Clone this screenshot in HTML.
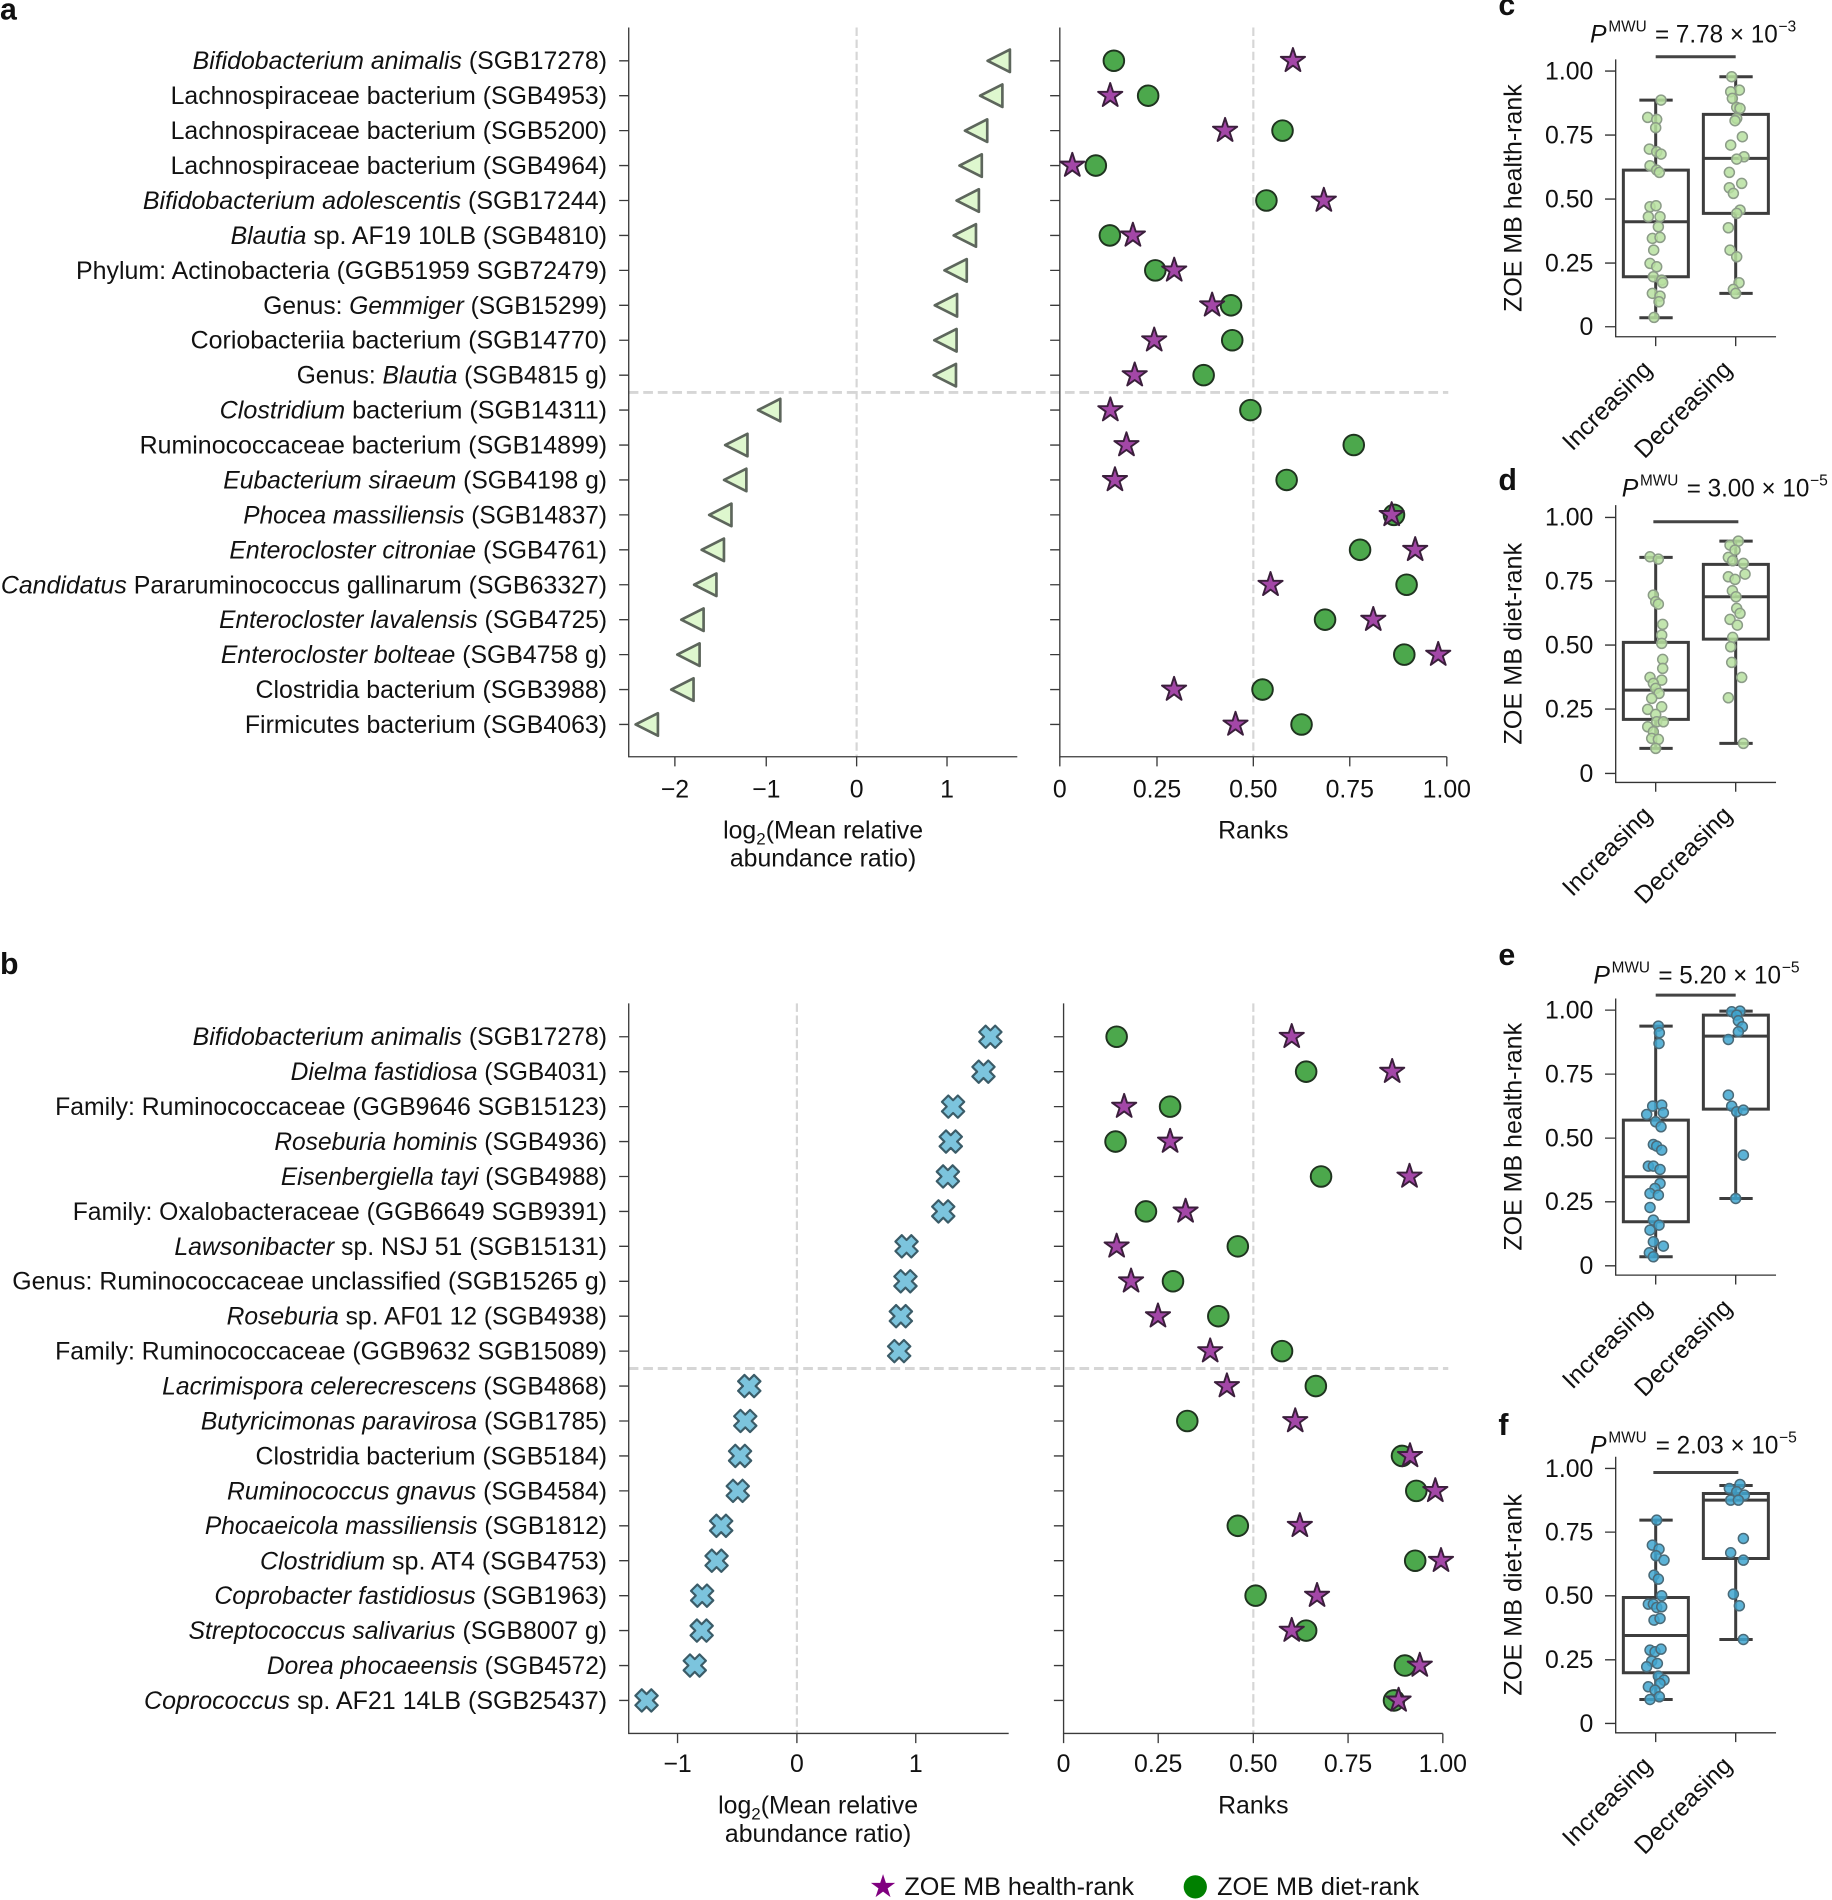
<!DOCTYPE html>
<html><head><meta charset="utf-8"><style>
html,body{margin:0;padding:0;background:#fff;}
svg{display:block;}
text{font-family:"Liberation Sans",Arial,sans-serif;fill:#111;}
.lb{font-size:20.5px;}
.it{font-style:italic;}
</style></head><body>
<svg width="1832" height="1900" viewBox="0 0 1512 1568" xmlns="http://www.w3.org/2000/svg">
<defs>
<polygon id="st" points="0,-10.5 2.35,-3.24 9.99,-3.24 3.8,1.24 6.17,8.49 0,4 -6.17,8.49 -3.8,1.24 -9.99,-3.24 -2.35,-3.24" fill="#a347a7" stroke="#3b1f3c" stroke-width="1.6" stroke-linejoin="round"/>
<circle id="ci" r="8.5" fill="#4ca84c" stroke="#1f331f" stroke-width="1.6"/>
<polygon id="tr" points="-9.2,0 9.2,-9.3 9.2,9.3" fill="#def7ce" stroke="#5d665c" stroke-width="2.2" stroke-linejoin="round"/>
<polygon id="xx" points="-3.94,9.2 0,5.26 3.94,9.2 9.2,3.94 5.26,0 9.2,-3.94 3.94,-9.2 0,-5.26 -3.94,-9.2 -9.2,-3.94 -5.26,0 -9.2,3.94" fill="#7cc4dd" stroke="#3b5c68" stroke-width="1.8" stroke-linejoin="round"/>
</defs>
<rect width="1512" height="1568" fill="#fff"/>

<!-- ================= PANEL A ================= -->
<text x="0" y="16" font-size="25" font-weight="bold">a</text>
<!-- dashed guides -->
<line x1="707" y1="22.6" x2="707" y2="624.5" stroke="#d6d6d6" stroke-width="1.8" stroke-dasharray="7,3"/>
<line x1="1034.4" y1="22.6" x2="1034.4" y2="624.5" stroke="#d6d6d6" stroke-width="1.8" stroke-dasharray="7,3"/>
<line x1="518.9" y1="323.8" x2="1195.3" y2="323.8" stroke="#d6d6d6" stroke-width="2.4" stroke-dasharray="8,4"/>
<!-- spines -->
<path d="M518.9,22.6 V624.5 H839.6 M874.7,22.6 V624.5 H1194.1" fill="none" stroke="#3a3a3a" stroke-width="1.1"/>
<path d="M511,50.1H518.9M511,78.93H518.9M511,107.76H518.9M511,136.59H518.9M511,165.42H518.9M511,194.25H518.9M511,223.08H518.9M511,251.91H518.9M511,280.74H518.9M511,309.57H518.9M511,338.4H518.9M511,367.23H518.9M511,396.06H518.9M511,424.89H518.9M511,453.72H518.9M511,482.55H518.9M511,511.38H518.9M511,540.21H518.9M511,569.04H518.9M511,597.87H518.9
M866.7,50.1H874.7M866.7,78.93H874.7M866.7,107.76H874.7M866.7,136.59H874.7M866.7,165.42H874.7M866.7,194.25H874.7M866.7,223.08H874.7M866.7,251.91H874.7M866.7,280.74H874.7M866.7,309.57H874.7M866.7,338.4H874.7M866.7,367.23H874.7M866.7,396.06H874.7M866.7,424.89H874.7M866.7,453.72H874.7M866.7,482.55H874.7M866.7,511.38H874.7M866.7,540.21H874.7M866.7,569.04H874.7M866.7,597.87H874.7
M557,624.5V632.5M632.4,624.5V632.5M707,624.5V632.5M781.6,624.5V632.5
M874.7,624.5V632.5M954.9,624.5V632.5M1034.4,624.5V632.5M1114,624.5V632.5M1194.1,624.5V632.5" stroke="#3a3a3a" stroke-width="1.1"/>
<g class="lb" text-anchor="middle">
<text x="557" y="658">−2</text><text x="632.4" y="658">−1</text><text x="707" y="658">0</text><text x="781.6" y="658">1</text>
<text x="874.7" y="658">0</text><text x="954.9" y="658">0.25</text><text x="1034.4" y="658">0.50</text><text x="1114" y="658">0.75</text><text x="1194.1" y="658">1.00</text>
<text x="679.3" y="691.9">log<tspan font-size="14" dy="5">2</tspan><tspan dy="-5">(Mean relative</tspan></text>
<text x="679.3" y="715.3">abundance ratio)</text>
<text x="1034.4" y="691.9">Ranks</text>
</g>
<!-- labels a -->
<g class="lb" lengthAdjust="spacingAndGlyphs">
<text x="159" y="57.1" textLength="342" lengthAdjust="spacingAndGlyphs"><tspan class="it">Bifidobacterium animalis</tspan> (SGB17278)</text>
<text x="140.8" y="85.9" textLength="360.2" lengthAdjust="spacingAndGlyphs">Lachnospiraceae bacterium (SGB4953)</text>
<text x="140.8" y="114.8" textLength="360.2" lengthAdjust="spacingAndGlyphs">Lachnospiraceae bacterium (SGB5200)</text>
<text x="140.8" y="143.6" textLength="360.2" lengthAdjust="spacingAndGlyphs">Lachnospiraceae bacterium (SGB4964)</text>
<text x="117.9" y="172.4" textLength="383.1" lengthAdjust="spacingAndGlyphs"><tspan class="it">Bifidobacterium adolescentis</tspan> (SGB17244)</text>
<text x="190.3" y="201.3" textLength="310.7" lengthAdjust="spacingAndGlyphs"><tspan class="it">Blautia</tspan> sp. AF19 10LB (SGB4810)</text>
<text x="62.7" y="230.1" textLength="438.3" lengthAdjust="spacingAndGlyphs">Phylum: Actinobacteria (GGB51959 SGB72479)</text>
<text x="217.3" y="258.9" textLength="283.7" lengthAdjust="spacingAndGlyphs">Genus: <tspan class="it">Gemmiger</tspan> (SGB15299)</text>
<text x="157.3" y="287.7" textLength="343.7" lengthAdjust="spacingAndGlyphs">Coriobacteriia bacterium (SGB14770)</text>
<text x="244.9" y="316.6" textLength="256.1" lengthAdjust="spacingAndGlyphs">Genus: <tspan class="it">Blautia</tspan> (SGB4815 g)</text>
<text x="181.3" y="345.4" textLength="319.7" lengthAdjust="spacingAndGlyphs"><tspan class="it">Clostridium</tspan> bacterium (SGB14311)</text>
<text x="115.2" y="374.2" textLength="385.8" lengthAdjust="spacingAndGlyphs">Ruminococcaceae bacterium (SGB14899)</text>
<text x="184.3" y="403.1" textLength="316.7" lengthAdjust="spacingAndGlyphs"><tspan class="it">Eubacterium siraeum</tspan> (SGB4198 g)</text>
<text x="200.8" y="431.9" textLength="300.2" lengthAdjust="spacingAndGlyphs"><tspan class="it">Phocea massiliensis</tspan> (SGB14837)</text>
<text x="189.3" y="460.7" textLength="311.7" lengthAdjust="spacingAndGlyphs"><tspan class="it">Enterocloster citroniae</tspan> (SGB4761)</text>
<text x="0.7" y="489.6" textLength="500.3" lengthAdjust="spacingAndGlyphs"><tspan class="it">Candidatus</tspan> Pararuminococcus gallinarum (SGB63327)</text>
<text x="180.9" y="518.4" textLength="320.1" lengthAdjust="spacingAndGlyphs"><tspan class="it">Enterocloster lavalensis</tspan> (SGB4725)</text>
<text x="182.3" y="547.2" textLength="318.7" lengthAdjust="spacingAndGlyphs"><tspan class="it">Enterocloster bolteae</tspan> (SGB4758 g)</text>
<text x="210.9" y="576.0" textLength="290.1" lengthAdjust="spacingAndGlyphs">Clostridia bacterium (SGB3988)</text>
<text x="202.1" y="604.9" textLength="298.9" lengthAdjust="spacingAndGlyphs">Firmicutes bacterium (SGB4063)</text>
</g>
<!-- triangles -->
<use href="#tr" x="824.3" y="50.1"/><use href="#tr" x="818.1" y="78.93"/><use href="#tr" x="805.6" y="107.76"/><use href="#tr" x="801.1" y="136.59"/><use href="#tr" x="798.7" y="165.42"/><use href="#tr" x="796.3" y="194.25"/><use href="#tr" x="788.7" y="223.08"/><use href="#tr" x="780.7" y="251.91"/><use href="#tr" x="780.3" y="280.74"/><use href="#tr" x="779.8" y="309.57"/><use href="#tr" x="634.8" y="338.4"/><use href="#tr" x="607.7" y="367.23"/><use href="#tr" x="606.8" y="396.06"/><use href="#tr" x="594.5" y="424.89"/><use href="#tr" x="588.3" y="453.72"/><use href="#tr" x="582.1" y="482.55"/><use href="#tr" x="571.5" y="511.38"/><use href="#tr" x="568.2" y="540.21"/><use href="#tr" x="563.2" y="569.04"/><use href="#tr" x="533.8" y="597.87"/>
<!-- circles a -->
<use href="#ci" x="919.3" y="50.1"/><use href="#ci" x="947.6" y="78.93"/><use href="#ci" x="1058.5" y="107.76"/><use href="#ci" x="904.4" y="136.59"/><use href="#ci" x="1045.2" y="165.42"/><use href="#ci" x="916" y="194.25"/><use href="#ci" x="953.5" y="223.08"/><use href="#ci" x="1016" y="251.91"/><use href="#ci" x="1017" y="280.74"/><use href="#ci" x="993.4" y="309.57"/><use href="#ci" x="1032" y="338.4"/><use href="#ci" x="1117.3" y="367.23"/><use href="#ci" x="1061.9" y="396.06"/><use href="#ci" x="1150.5" y="424.89"/><use href="#ci" x="1122.5" y="453.72"/><use href="#ci" x="1160.9" y="482.55"/><use href="#ci" x="1093.6" y="511.38"/><use href="#ci" x="1159" y="540.21"/><use href="#ci" x="1042" y="569.04"/><use href="#ci" x="1074.2" y="597.87"/>
<!-- stars a -->
<use href="#st" x="1067.1" y="50.1"/><use href="#st" x="916.3" y="78.93"/><use href="#st" x="1011.1" y="107.76"/><use href="#st" x="885" y="136.59"/><use href="#st" x="1092.6" y="165.42"/><use href="#st" x="935" y="194.25"/><use href="#st" x="969.1" y="223.08"/><use href="#st" x="1000.4" y="251.91"/><use href="#st" x="952.6" y="280.74"/><use href="#st" x="936.5" y="309.57"/><use href="#st" x="916.4" y="338.4"/><use href="#st" x="929.7" y="367.23"/><use href="#st" x="920.2" y="396.06"/><use href="#st" x="1148.6" y="424.89"/><use href="#st" x="1168" y="453.72"/><use href="#st" x="1048.6" y="482.55"/><use href="#st" x="1133.4" y="511.38"/><use href="#st" x="1187" y="540.21"/><use href="#st" x="969" y="569.04"/><use href="#st" x="1019.7" y="597.87"/>

<!-- ================= PANEL B ================= -->
<text x="0" y="804" font-size="25" font-weight="bold">b</text>
<line x1="657.7" y1="828.1" x2="657.7" y2="1430.6" stroke="#d6d6d6" stroke-width="1.8" stroke-dasharray="7,3"/>
<line x1="1034.4" y1="828.1" x2="1034.4" y2="1430.6" stroke="#d6d6d6" stroke-width="1.8" stroke-dasharray="7,3"/>
<line x1="518.9" y1="1129.4" x2="1195.3" y2="1129.4" stroke="#d6d6d6" stroke-width="2.4" stroke-dasharray="8,4"/>
<path d="M518.9,828.1 V1430.6 H832.5 M877.8,828.1 V1430.6 H1190.8" fill="none" stroke="#3a3a3a" stroke-width="1.1"/>
<path d="M511,855.6H518.9M511,884.43H518.9M511,913.26H518.9M511,942.09H518.9M511,970.92H518.9M511,999.75H518.9M511,1028.58H518.9M511,1057.41H518.9M511,1086.24H518.9M511,1115.07H518.9M511,1143.9H518.9M511,1172.73H518.9M511,1201.56H518.9M511,1230.39H518.9M511,1259.22H518.9M511,1288.05H518.9M511,1316.88H518.9M511,1345.71H518.9M511,1374.54H518.9M511,1403.37H518.9
M869.8,855.6H877.8M869.8,884.43H877.8M869.8,913.26H877.8M869.8,942.09H877.8M869.8,970.92H877.8M869.8,999.75H877.8M869.8,1028.58H877.8M869.8,1057.41H877.8M869.8,1086.24H877.8M869.8,1115.07H877.8M869.8,1143.9H877.8M869.8,1172.73H877.8M869.8,1201.56H877.8M869.8,1230.39H877.8M869.8,1259.22H877.8M869.8,1288.05H877.8M869.8,1316.88H877.8M869.8,1345.71H877.8M869.8,1374.54H877.8M869.8,1403.37H877.8
M559.2,1430.6V1438.6M657.7,1430.6V1438.6M755.8,1430.6V1438.6
M877.8,1430.6V1438.6M955.9,1430.6V1438.6M1034.4,1430.6V1438.6M1112.6,1430.6V1438.6M1190.8,1430.6V1438.6" stroke="#3a3a3a" stroke-width="1.1"/>
<g class="lb" text-anchor="middle">
<text x="559.2" y="1462.3">−1</text><text x="657.7" y="1462.3">0</text><text x="755.8" y="1462.3">1</text>
<text x="877.8" y="1462.3">0</text><text x="955.9" y="1462.3">0.25</text><text x="1034.4" y="1462.3">0.50</text><text x="1112.6" y="1462.3">0.75</text><text x="1190.8" y="1462.3">1.00</text>
<text x="675.2" y="1496.6">log<tspan font-size="14" dy="5">2</tspan><tspan dy="-5">(Mean relative</tspan></text>
<text x="675.2" y="1520">abundance ratio)</text>
<text x="1034.4" y="1496.6">Ranks</text>
</g>
<g class="lb">
<text x="159" y="862.6" textLength="342" lengthAdjust="spacingAndGlyphs"><tspan class="it">Bifidobacterium animalis</tspan> (SGB17278)</text>
<text x="239.9" y="891.4" textLength="261.1" lengthAdjust="spacingAndGlyphs"><tspan class="it">Dielma fastidiosa</tspan> (SGB4031)</text>
<text x="45.5" y="920.3" textLength="455.5" lengthAdjust="spacingAndGlyphs">Family: Ruminococcaceae (GGB9646 SGB15123)</text>
<text x="226.4" y="949.1" textLength="274.6" lengthAdjust="spacingAndGlyphs"><tspan class="it">Roseburia hominis</tspan> (SGB4936)</text>
<text x="231.8" y="977.9" textLength="269.2" lengthAdjust="spacingAndGlyphs"><tspan class="it">Eisenbergiella tayi</tspan> (SGB4988)</text>
<text x="60" y="1006.8" textLength="441" lengthAdjust="spacingAndGlyphs">Family: Oxalobacteraceae (GGB6649 SGB9391)</text>
<text x="143.9" y="1035.6" textLength="357.1" lengthAdjust="spacingAndGlyphs"><tspan class="it">Lawsonibacter</tspan> sp. NSJ 51 (SGB15131)</text>
<text x="10.1" y="1064.4" textLength="490.9" lengthAdjust="spacingAndGlyphs">Genus: Ruminococcaceae unclassified (SGB15265 g)</text>
<text x="187" y="1093.2" textLength="314" lengthAdjust="spacingAndGlyphs"><tspan class="it">Roseburia</tspan> sp. AF01 12 (SGB4938)</text>
<text x="45.5" y="1122.1" textLength="455.5" lengthAdjust="spacingAndGlyphs">Family: Ruminococcaceae (GGB9632 SGB15089)</text>
<text x="133.8" y="1150.9" textLength="367.2" lengthAdjust="spacingAndGlyphs"><tspan class="it">Lacrimispora celerecrescens</tspan> (SGB4868)</text>
<text x="165.8" y="1179.7" textLength="335.2" lengthAdjust="spacingAndGlyphs"><tspan class="it">Butyricimonas paravirosa</tspan> (SGB1785)</text>
<text x="210.9" y="1208.6" textLength="290.1" lengthAdjust="spacingAndGlyphs">Clostridia bacterium (SGB5184)</text>
<text x="187.3" y="1237.4" textLength="313.7" lengthAdjust="spacingAndGlyphs"><tspan class="it">Ruminococcus gnavus</tspan> (SGB4584)</text>
<text x="169.1" y="1266.2" textLength="331.9" lengthAdjust="spacingAndGlyphs"><tspan class="it">Phocaeicola massiliensis</tspan> (SGB1812)</text>
<text x="214.6" y="1295.1" textLength="286.4" lengthAdjust="spacingAndGlyphs"><tspan class="it">Clostridium</tspan> sp. AT4 (SGB4753)</text>
<text x="176.9" y="1323.9" textLength="324.1" lengthAdjust="spacingAndGlyphs"><tspan class="it">Coprobacter fastidiosus</tspan> (SGB1963)</text>
<text x="155.6" y="1352.7" textLength="345.4" lengthAdjust="spacingAndGlyphs"><tspan class="it">Streptococcus salivarius</tspan> (SGB8007 g)</text>
<text x="220.3" y="1381.5" textLength="280.7" lengthAdjust="spacingAndGlyphs"><tspan class="it">Dorea phocaeensis</tspan> (SGB4572)</text>
<text x="118.9" y="1410.4" textLength="382.1" lengthAdjust="spacingAndGlyphs"><tspan class="it">Coprococcus</tspan> sp. AF21 14LB (SGB25437)</text>
</g>
<!-- X markers -->
<use href="#xx" x="817.4" y="855.6"/><use href="#xx" x="811.7" y="884.43"/><use href="#xx" x="786.6" y="913.26"/><use href="#xx" x="784.7" y="942.09"/><use href="#xx" x="782.3" y="970.92"/><use href="#xx" x="778.5" y="999.75"/><use href="#xx" x="748.2" y="1028.58"/><use href="#xx" x="747.3" y="1057.41"/><use href="#xx" x="743.5" y="1086.24"/><use href="#xx" x="742.1" y="1115.07"/><use href="#xx" x="618.4" y="1143.9"/><use href="#xx" x="615.1" y="1172.73"/><use href="#xx" x="610.8" y="1201.56"/><use href="#xx" x="608.9" y="1230.39"/><use href="#xx" x="595.2" y="1259.22"/><use href="#xx" x="591.4" y="1288.05"/><use href="#xx" x="579.5" y="1316.88"/><use href="#xx" x="579.1" y="1345.71"/><use href="#xx" x="573.4" y="1374.54"/><use href="#xx" x="533.6" y="1403.37"/>
<!-- circles b -->
<use href="#ci" x="921.6" y="855.6"/><use href="#ci" x="1078" y="884.43"/><use href="#ci" x="965.7" y="913.26"/><use href="#ci" x="920.7" y="942.09"/><use href="#ci" x="1090.3" y="970.92"/><use href="#ci" x="945.8" y="999.75"/><use href="#ci" x="1021.6" y="1028.58"/><use href="#ci" x="968.1" y="1057.41"/><use href="#ci" x="1005.5" y="1086.24"/><use href="#ci" x="1058.1" y="1115.07"/><use href="#ci" x="1086" y="1143.9"/><use href="#ci" x="979.9" y="1172.73"/><use href="#ci" x="1157.1" y="1201.56"/><use href="#ci" x="1168.9" y="1230.39"/><use href="#ci" x="1021.6" y="1259.22"/><use href="#ci" x="1168" y="1288.05"/><use href="#ci" x="1036.3" y="1316.88"/><use href="#ci" x="1078" y="1345.71"/><use href="#ci" x="1159.5" y="1374.54"/><use href="#ci" x="1150.5" y="1403.37"/>
<!-- stars b -->
<use href="#st" x="1066.1" y="855.6"/><use href="#st" x="1149" y="884.43"/><use href="#st" x="927.8" y="913.26"/><use href="#st" x="965.7" y="942.09"/><use href="#st" x="1163.3" y="970.92"/><use href="#st" x="978.5" y="999.75"/><use href="#st" x="921.6" y="1028.58"/><use href="#st" x="933.5" y="1057.41"/><use href="#st" x="955.7" y="1086.24"/><use href="#st" x="998.8" y="1115.07"/><use href="#st" x="1012.6" y="1143.9"/><use href="#st" x="1069" y="1172.73"/><use href="#st" x="1163.7" y="1201.56"/><use href="#st" x="1184.6" y="1230.39"/><use href="#st" x="1072.8" y="1259.22"/><use href="#st" x="1189.3" y="1288.05"/><use href="#st" x="1087" y="1316.88"/><use href="#st" x="1066.1" y="1345.71"/><use href="#st" x="1171.8" y="1374.54"/><use href="#st" x="1154.3" y="1403.37"/>

<!-- legend -->
<polygon transform="translate(728.8,1557.2)" points="0,-10.5 2.35,-3.24 9.99,-3.24 3.8,1.24 6.17,8.49 0,4 -6.17,8.49 -3.8,1.24 -9.99,-3.24 -2.35,-3.24" fill="#800080"/>
<text class="lb" x="746.4" y="1564" textLength="189.5" lengthAdjust="spacingAndGlyphs">ZOE MB health-rank</text>
<circle cx="986.5" cy="1557.2" r="9.6" fill="#008000"/>
<text class="lb" x="1004.5" y="1564" textLength="166.8" lengthAdjust="spacingAndGlyphs">ZOE MB diet-rank</text>

<!-- ================= PANEL C ================= -->
<g transform="translate(1221.5,0) scale(0.27512)">
<text x="55" y="45" font-size="91" font-weight="bold">c</text>
<path d="M407,178 V1010 H888 M375,213H407 M375,405H407 M375,597H407 M375,789H407 M375,980H407 M527,1010V1038 M767,1010V1038" fill="none" stroke="#333" stroke-width="4"/>
<g font-size="74.5" text-anchor="end"><text x="340" y="238">1.00</text><text x="340" y="430">0.75</text><text x="340" y="622">0.50</text><text x="340" y="814">0.25</text><text x="340" y="1005">0</text></g>
<text transform="translate(125,594) rotate(-90)" text-anchor="middle" font-size="74.5" textLength="683" lengthAdjust="spacingAndGlyphs">ZOE MB health-rank</text>
<text transform="translate(520,1112) rotate(-45)" text-anchor="end" font-size="74.5">Increasing</text>
<text transform="translate(760,1112) rotate(-45)" text-anchor="end" font-size="74.5">Decreasing</text>
<text x="330" y="128" font-size="74.5" font-style="italic">P</text>
<text x="385" y="95" font-size="47" textLength="115" lengthAdjust="spacingAndGlyphs">MWU</text>
<text x="525" y="128" font-size="74.5" textLength="368" lengthAdjust="spacingAndGlyphs">= 7.78 × 10</text>
<text x="895" y="95" font-size="47">−3</text>
<line x1="527" y1="170" x2="767" y2="170" stroke="#444" stroke-width="9"/>
<path d="M430,510H625V830H430Z M430,665H625 M527,510V300 M478,300H578 M527,830V953 M478,953H578
M670,343H865V640H670Z M670,475H865 M767,343V230 M718,230H818 M767,640V880 M718,880H818" fill="none" stroke="#3d3d3d" stroke-width="9"/>
<g fill="#b7e1a0" fill-opacity="0.85" stroke="#8c9c88" stroke-width="4.5">
<circle cx="543" cy="300" r="15"/><circle cx="503" cy="352" r="15"/><circle cx="530" cy="358" r="15"/><circle cx="527" cy="383" r="15"/><circle cx="508" cy="447" r="15"/><circle cx="530" cy="455" r="15"/><circle cx="543" cy="462" r="15"/><circle cx="510" cy="497" r="15"/><circle cx="530" cy="510" r="15"/><circle cx="538" cy="517" r="15"/><circle cx="510" cy="620" r="15"/><circle cx="528" cy="617" r="15"/><circle cx="505" cy="650" r="15"/><circle cx="540" cy="650" r="15"/><circle cx="535" cy="680" r="15"/><circle cx="517" cy="715" r="15"/><circle cx="540" cy="712" r="15"/><circle cx="521" cy="750" r="15"/><circle cx="510" cy="790" r="15"/><circle cx="530" cy="800" r="15"/><circle cx="520" cy="830" r="15"/><circle cx="545" cy="840" r="15"/><circle cx="548" cy="848" r="15"/><circle cx="517" cy="880" r="15"/><circle cx="540" cy="888" r="15"/><circle cx="537" cy="905" r="15"/><circle cx="522" cy="952" r="15"/>
<circle cx="755" cy="230" r="15"/><circle cx="778" cy="270" r="15"/><circle cx="752" cy="275" r="15"/><circle cx="757" cy="295" r="15"/><circle cx="770" cy="322" r="15"/><circle cx="780" cy="325" r="15"/><circle cx="770" cy="355" r="15"/><circle cx="765" cy="362" r="15"/><circle cx="787" cy="410" r="15"/><circle cx="752" cy="435" r="15"/><circle cx="792" cy="470" r="15"/><circle cx="770" cy="477" r="15"/><circle cx="748" cy="517" r="15"/><circle cx="785" cy="550" r="15"/><circle cx="748" cy="563" r="15"/><circle cx="760" cy="580" r="15"/><circle cx="780" cy="630" r="15"/><circle cx="770" cy="640" r="15"/><circle cx="745" cy="683" r="15"/><circle cx="750" cy="750" r="15"/><circle cx="770" cy="770" r="15"/><circle cx="777" cy="848" r="15"/><circle cx="760" cy="868" r="15"/><circle cx="767" cy="880" r="15"/>
</g>
</g>

<!-- ================= PANEL D ================= -->
<g transform="translate(1221.5,379.66) scale(0.27512)">
<text x="55" y="90" font-size="91" font-weight="bold">d</text>
<path d="M407,135 V967 H888 M375,172H407 M375,363H407 M375,555H407 M375,747H407 M375,940H407 M527,967V995 M767,967V995" fill="none" stroke="#333" stroke-width="4"/>
<g font-size="74.5" text-anchor="end"><text x="340" y="197">1.00</text><text x="340" y="388">0.75</text><text x="340" y="580">0.50</text><text x="340" y="772">0.25</text><text x="340" y="965">0</text></g>
<text transform="translate(125,551) rotate(-90)" text-anchor="middle" font-size="74.5" textLength="605" lengthAdjust="spacingAndGlyphs">ZOE MB diet-rank</text>
<text transform="translate(520,1069) rotate(-45)" text-anchor="end" font-size="74.5">Increasing</text>
<text transform="translate(760,1069) rotate(-45)" text-anchor="end" font-size="74.5">Decreasing</text>
<text x="425" y="110" font-size="74.5" font-style="italic">P</text>
<text x="480" y="77" font-size="47" textLength="115" lengthAdjust="spacingAndGlyphs">MWU</text>
<text x="620" y="110" font-size="74.5" textLength="368" lengthAdjust="spacingAndGlyphs">= 3.00 × 10</text>
<text x="990" y="77" font-size="47">−5</text>
<line x1="520" y1="185" x2="775" y2="185" stroke="#444" stroke-width="9"/>
<path d="M430,547H625V778H430Z M430,690H625 M527,547V292 M478,292H578 M527,778V865 M478,865H578
M670,313H865V537H670Z M670,410H865 M767,313V243 M718,243H818 M767,537V850 M718,850H818" fill="none" stroke="#3d3d3d" stroke-width="9"/>
<g fill="#b7e1a0" fill-opacity="0.85" stroke="#8c9c88" stroke-width="4.5">
<circle cx="510" cy="290" r="15"/><circle cx="535" cy="297" r="15"/><circle cx="520" cy="405" r="15"/><circle cx="527" cy="425" r="15"/><circle cx="535" cy="432" r="15"/><circle cx="548" cy="493" r="15"/><circle cx="545" cy="525" r="15"/><circle cx="545" cy="550" r="15"/><circle cx="548" cy="598" r="15"/><circle cx="548" cy="625" r="15"/><circle cx="510" cy="652" r="15"/><circle cx="545" cy="660" r="15"/><circle cx="520" cy="670" r="15"/><circle cx="527" cy="685" r="15"/><circle cx="537" cy="700" r="15"/><circle cx="515" cy="715" r="15"/><circle cx="503" cy="748" r="15"/><circle cx="545" cy="740" r="15"/><circle cx="527" cy="763" r="15"/><circle cx="530" cy="785" r="15"/><circle cx="550" cy="785" r="15"/><circle cx="503" cy="800" r="15"/><circle cx="520" cy="815" r="15"/><circle cx="515" cy="835" r="15"/><circle cx="535" cy="838" r="15"/><circle cx="527" cy="865" r="15"/>
<circle cx="750" cy="255" r="15"/><circle cx="775" cy="243" r="15"/><circle cx="765" cy="270" r="15"/><circle cx="745" cy="292" r="15"/><circle cx="758" cy="302" r="15"/><circle cx="790" cy="310" r="15"/><circle cx="745" cy="350" r="15"/><circle cx="795" cy="342" r="15"/><circle cx="765" cy="358" r="15"/><circle cx="757" cy="392" r="15"/><circle cx="768" cy="410" r="15"/><circle cx="770" cy="445" r="15"/><circle cx="780" cy="460" r="15"/><circle cx="750" cy="478" r="15"/><circle cx="772" cy="495" r="15"/><circle cx="758" cy="532" r="15"/><circle cx="752" cy="560" r="15"/><circle cx="755" cy="607" r="15"/><circle cx="785" cy="652" r="15"/><circle cx="745" cy="713" r="15"/><circle cx="790" cy="850" r="15"/>
</g>
</g>

<!-- ================= PANEL E ================= -->
<g transform="translate(1221.5,767.58) scale(0.27512)">
<text x="55" y="105" font-size="91" font-weight="bold">e</text>
<path d="M407,205 V1035 H888 M375,240H407 M375,432H407 M375,624H407 M375,815H407 M375,1007H407 M527,1035V1063 M767,1035V1063" fill="none" stroke="#333" stroke-width="4"/>
<g font-size="74.5" text-anchor="end"><text x="340" y="265">1.00</text><text x="340" y="457">0.75</text><text x="340" y="649">0.50</text><text x="340" y="840">0.25</text><text x="340" y="1032">0</text></g>
<text transform="translate(125,620) rotate(-90)" text-anchor="middle" font-size="74.5" textLength="683" lengthAdjust="spacingAndGlyphs">ZOE MB health-rank</text>
<text transform="translate(520,1137) rotate(-45)" text-anchor="end" font-size="74.5">Increasing</text>
<text transform="translate(760,1137) rotate(-45)" text-anchor="end" font-size="74.5">Decreasing</text>
<text x="340" y="160" font-size="74.5" font-style="italic">P</text>
<text x="395" y="127" font-size="47" textLength="115" lengthAdjust="spacingAndGlyphs">MWU</text>
<text x="535" y="160" font-size="74.5" textLength="368" lengthAdjust="spacingAndGlyphs">= 5.20 × 10</text>
<text x="905" y="127" font-size="47">−5</text>
<line x1="527" y1="195" x2="767" y2="195" stroke="#444" stroke-width="9"/>
<path d="M430,570H625V875H430Z M430,740H625 M527,570V288 M478,288H578 M527,875V980 M478,980H578
M670,255H865V537H670Z M670,318H865 M767,255V243 M718,243H818 M767,537V805 M718,805H818" fill="none" stroke="#3d3d3d" stroke-width="9"/>
<g fill="#3fa6d0" fill-opacity="0.85" stroke="#4a6a78" stroke-width="4.5">
<circle cx="535" cy="288" r="15"/><circle cx="538" cy="308" r="15"/><circle cx="537" cy="340" r="15"/><circle cx="518" cy="528" r="15"/><circle cx="545" cy="525" r="15"/><circle cx="500" cy="553" r="15"/><circle cx="550" cy="548" r="15"/><circle cx="527" cy="575" r="15"/><circle cx="543" cy="590" r="15"/><circle cx="520" cy="643" r="15"/><circle cx="530" cy="648" r="15"/><circle cx="545" cy="660" r="15"/><circle cx="505" cy="708" r="15"/><circle cx="520" cy="708" r="15"/><circle cx="540" cy="718" r="15"/><circle cx="540" cy="760" r="15"/><circle cx="525" cy="775" r="15"/><circle cx="510" cy="790" r="15"/><circle cx="535" cy="795" r="15"/><circle cx="510" cy="832" r="15"/><circle cx="520" cy="870" r="15"/><circle cx="537" cy="885" r="15"/><circle cx="510" cy="900" r="15"/><circle cx="520" cy="935" r="15"/><circle cx="550" cy="948" r="15"/><circle cx="508" cy="968" r="15"/><circle cx="520" cy="980" r="15"/>
<circle cx="755" cy="245" r="15"/><circle cx="780" cy="243" r="15"/><circle cx="770" cy="255" r="15"/><circle cx="775" cy="272" r="15"/><circle cx="787" cy="290" r="15"/><circle cx="775" cy="305" r="15"/><circle cx="745" cy="328" r="15"/><circle cx="745" cy="495" r="15"/><circle cx="755" cy="528" r="15"/><circle cx="770" cy="545" r="15"/><circle cx="790" cy="540" r="15"/><circle cx="790" cy="675" r="15"/><circle cx="767" cy="805" r="15"/>
</g>
</g>

<!-- ================= PANEL F ================= -->
<g transform="translate(1221.5,1155.5) scale(0.27512)">
<text x="55" y="105" font-size="91" font-weight="bold">f</text>
<path d="M407,170 V998 H888 M375,205H407 M375,396H407 M375,587H407 M375,779H407 M375,970H407 M527,998V1026 M767,998V1026" fill="none" stroke="#333" stroke-width="4"/>
<g font-size="74.5" text-anchor="end"><text x="340" y="230">1.00</text><text x="340" y="421">0.75</text><text x="340" y="612">0.50</text><text x="340" y="804">0.25</text><text x="340" y="995">0</text></g>
<text transform="translate(125,584) rotate(-90)" text-anchor="middle" font-size="74.5" textLength="605" lengthAdjust="spacingAndGlyphs">ZOE MB diet-rank</text>
<text transform="translate(520,1100) rotate(-45)" text-anchor="end" font-size="74.5">Increasing</text>
<text transform="translate(760,1100) rotate(-45)" text-anchor="end" font-size="74.5">Decreasing</text>
<text x="330" y="160" font-size="74.5" font-style="italic">P</text>
<text x="385" y="127" font-size="47" textLength="115" lengthAdjust="spacingAndGlyphs">MWU</text>
<text x="527" y="160" font-size="74.5" textLength="368" lengthAdjust="spacingAndGlyphs">= 2.03 × 10</text>
<text x="897" y="127" font-size="47">−5</text>
<line x1="520" y1="217" x2="775" y2="217" stroke="#444" stroke-width="9"/>
<path d="M430,592H625V818H430Z M430,706H625 M527,592V360 M478,360H578 M527,818V898 M478,898H578
M670,280H865V475H670Z M670,300H865 M767,280V256 M718,256H818 M767,475V718 M718,718H818" fill="none" stroke="#3d3d3d" stroke-width="9"/>
<g fill="#3fa6d0" fill-opacity="0.85" stroke="#4a6a78" stroke-width="4.5">
<circle cx="530" cy="360" r="15"/><circle cx="517" cy="435" r="15"/><circle cx="537" cy="447" r="15"/><circle cx="528" cy="467" r="15"/><circle cx="552" cy="480" r="15"/><circle cx="522" cy="525" r="15"/><circle cx="535" cy="537" r="15"/><circle cx="545" cy="587" r="15"/><circle cx="505" cy="612" r="15"/><circle cx="520" cy="612" r="15"/><circle cx="530" cy="622" r="15"/><circle cx="545" cy="620" r="15"/><circle cx="522" cy="660" r="15"/><circle cx="540" cy="655" r="15"/><circle cx="510" cy="750" r="15"/><circle cx="525" cy="755" r="15"/><circle cx="543" cy="747" r="15"/><circle cx="515" cy="783" r="15"/><circle cx="532" cy="790" r="15"/><circle cx="500" cy="800" r="15"/><circle cx="535" cy="828" r="15"/><circle cx="552" cy="840" r="15"/><circle cx="540" cy="850" r="15"/><circle cx="505" cy="860" r="15"/><circle cx="525" cy="870" r="15"/><circle cx="510" cy="898" r="15"/><circle cx="538" cy="890" r="15"/>
<circle cx="780" cy="253" r="15"/><circle cx="748" cy="265" r="15"/><circle cx="770" cy="275" r="15"/><circle cx="793" cy="285" r="15"/><circle cx="752" cy="300" r="15"/><circle cx="775" cy="300" r="15"/><circle cx="790" cy="415" r="15"/><circle cx="752" cy="458" r="15"/><circle cx="790" cy="480" r="15"/><circle cx="760" cy="582" r="15"/><circle cx="778" cy="617" r="15"/><circle cx="790" cy="718" r="15"/>
</g>
</g>
</svg>
</body></html>
